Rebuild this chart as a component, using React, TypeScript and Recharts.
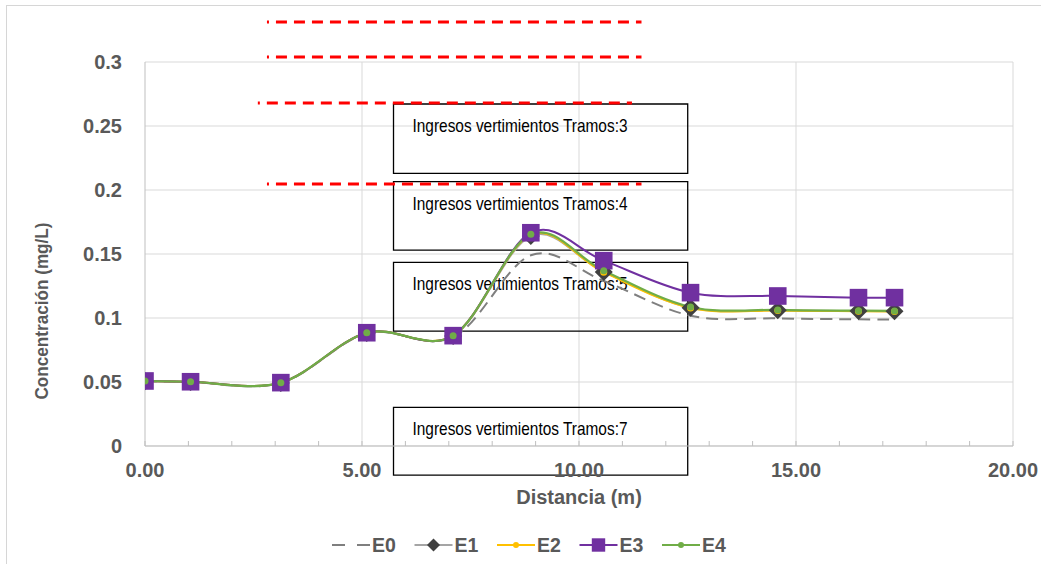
import React from 'react';
import { LineChart, Line, XAxis, YAxis, CartesianGrid, ReferenceLine, ReferenceArea } from 'recharts';

// ---- data ----
const distancia = [0, 1.05, 3.13, 5.11, 7.1, 8.89, 10.57, 12.57, 14.58, 16.44, 17.27];
const e0 = [0.0505, 0.05, 0.0493, 0.088, 0.085, 0.149, 0.129, 0.1018, 0.0997, 0.099, 0.0988];
const e1 = [0.0506, 0.05, 0.0493, 0.0883, 0.086, 0.164, 0.136, 0.108, 0.106, 0.1054, 0.1052];
const e2 = [0.0508, 0.0502, 0.0495, 0.0885, 0.0862, 0.165, 0.1358, 0.1078, 0.1058, 0.1053, 0.105];
const e3 = [0.0508, 0.0502, 0.0495, 0.0885, 0.0862, 0.1666, 0.1448, 0.1198, 0.1172, 0.1159, 0.1159];
const e4 = [0.0508, 0.0502, 0.0495, 0.0885, 0.0862, 0.1654, 0.137, 0.1086, 0.1063, 0.1057, 0.1055];

const xTicks = [0, 1, 2, 3, 4, 5, 6, 7, 8, 9, 10, 11, 12, 13, 14, 15, 16, 17, 18, 19, 20];
const xGridValues = [5, 10, 15, 20];
const yTicks = [0, 0.05, 0.1, 0.15, 0.2, 0.25, 0.3];

const boxLabels = [
  'Ingresos vertimientos Tramos:3',
  'Ingresos vertimientos Tramos:4',
  'Ingresos vertimientos Tramos:5',
  'Ingresos vertimientos Tramos:7',
];
const boxX1 = [5.726, 5.726, 5.726, 5.726];
const boxX2 = [12.505, 12.505, 12.505, 12.505];
const boxTop = [0.2672, 0.2065, 0.1435, 0.0302];
const boxBottom = [0.213, 0.1531, 0.0898, -0.0227];

const redY = [0.3313, 0.3039, 0.268, 0.2047];
const redX1 = [2.81, 2.81, 2.6, 2.81];
const redX2 = [11.44, 11.44, 11.22, 11.44];

const seriesNames = ['E0', 'E1', 'E2', 'E3', 'E4'];
const seriesValues = [e0, e1, e2, e3, e4];

const data = distancia.map((d, i) => {
  const row: any = { d };
  seriesNames.forEach((n, k) => (row[n] = seriesValues[k][i]));
  return row;
});

// dash pattern of the red lines: a short leading fragment, then regular dashes
const redDash = ['2 7'].concat(Array(24).fill('11 7')).join(' ');

// Excel-like smoothing (Catmull-Rom style bezier)
function excelSmooth(context: any) {
  let pts: number[][] = [];
  return {
    areaStart() {},
    areaEnd() {},
    lineStart() {
      pts = [];
    },
    point(x: number, y: number) {
      pts.push([+x, +y]);
    },
    lineEnd() {
      const n = pts.length;
      if (!n) return;
      context.moveTo(pts[0][0], pts[0][1]);
      for (let i = 0; i < n - 1; i++) {
        const p0 = pts[Math.max(i - 1, 0)];
        const p1 = pts[i];
        const p2 = pts[i + 1];
        const p3 = pts[Math.min(i + 2, n - 1)];
        const c1x = p1[0] + (p2[0] - p0[0]) / 6;
        const c1y = p1[1] + (p2[1] - p0[1]) / 6;
        const c2x = p2[0] - (p3[0] - p1[0]) / 6;
        const c2y = p2[1] - (p3[1] - p1[1]) / 6;
        context.bezierCurveTo(c1x, c1y, c2x, c2y, p2[0], p2[1]);
      }
    },
  };
}

const C = {
  E0: '#7f7f7f',
  E1line: '#a5a5a5',
  E1mark: '#404040',
  E2: '#FFC000',
  E3: '#7030A0',
  E4: '#70AD47',
  text: '#595959',
};

const Diamond = (p: any) => {
  const { cx, cy, index } = p;
  if (cx == null || cy == null) return <g key={`dm${index}`} />;
  const s = 9;
  return <path key={`dm${index}`} d={`M${cx},${cy - s}L${cx + s},${cy}L${cx},${cy + s}L${cx - s},${cy}Z`} fill={C.E1mark} />;
};
const Square = (p: any) => {
  const { cx, cy, index } = p;
  if (cx == null || cy == null) return <g key={`sq${index}`} />;
  const s = 8.8;
  return <rect key={`sq${index}`} x={cx - s} y={cy - s} width={2 * s} height={2 * s} fill={C.E3} />;
};
const makeCircle = (color: string, tag: string) => (p: any) => {
  const { cx, cy, index } = p;
  if (cx == null || cy == null) return <g key={`${tag}${index}`} />;
  return <circle key={`${tag}${index}`} cx={cx} cy={cy} r={3.5} fill={color} />;
};

const BoxLabel = (props: any) => {
  const { viewBox, text } = props;
  if (!viewBox) return null;
  return (
    <text
      x={viewBox.x + 19}
      y={viewBox.y + 28}
      fontSize={18.5}
      fontFamily="'Liberation Sans Narrow','Liberation Sans',Arial,sans-serif"
      fill="#000"
      textLength={215}
      lengthAdjust="spacingAndGlyphs"
    >
      {text}
    </text>
  );
};

const YTitle = (props: any) => {
  const { viewBox } = props;
  if (!viewBox) return null;
  const cx = viewBox.x + 33;
  const cy = viewBox.y + viewBox.height / 2 + 57;
  return (
    <text
      x={cx}
      y={cy}
      transform={`rotate(-90 ${cx} ${cy})`}
      textAnchor="middle"
      dominantBaseline="central"
      fontSize={19}
      fontWeight="bold"
      fill={C.text}
      textLength={177}
      lengthAdjust="spacingAndGlyphs"
    >
      Concentración (mg/L)
    </text>
  );
};

const XTitle = (props: any) => {
  const { viewBox } = props;
  if (!viewBox) return null;
  return (
    <text
      x={viewBox.x + viewBox.width / 2}
      y={viewBox.y + 58}
      textAnchor="middle"
      fontSize={20}
      fontWeight="bold"
      fill={C.text}
    >
      Distancia (m)
    </text>
  );
};

const LegendIcon = ({ name, x, y }: { name: string; x: number; y: number }) => {
  const w = 38;
  if (name === 'E0')
    return <line x1={x} x2={x + w} y1={y} y2={y} stroke={C.E0} strokeWidth={2} strokeDasharray="13 12" />;
  if (name === 'E1')
    return (
      <g>
        <line x1={x} x2={x + w} y1={y} y2={y} stroke={C.E1line} strokeWidth={2} />
        <path d={`M${x + w / 2},${y - 6.5}L${x + w / 2 + 6.5},${y}L${x + w / 2},${y + 6.5}L${x + w / 2 - 6.5},${y}Z`} fill={C.E1mark} />
      </g>
    );
  if (name === 'E2')
    return (
      <g>
        <line x1={x} x2={x + w} y1={y} y2={y} stroke={C.E2} strokeWidth={2} />
        <circle cx={x + w / 2} cy={y} r={3} fill={C.E2} />
      </g>
    );
  if (name === 'E3')
    return (
      <g>
        <line x1={x} x2={x + w} y1={y} y2={y} stroke={C.E3} strokeWidth={2} />
        <rect x={x + w / 2 - 6.7} y={y - 6.7} width={13.4} height={13.4} fill={C.E3} />
      </g>
    );
  return (
    <g>
      <line x1={x} x2={x + w} y1={y} y2={y} stroke={C.E4} strokeWidth={2} />
      <circle cx={x + w / 2} cy={y} r={3} fill={C.E4} />
    </g>
  );
};

export default function App() {
  return (
    <div
      style={{
        position: 'absolute',
        left: 0,
        top: 0,
        width: 1041,
        height: 564,
        overflow: 'hidden',
        background: '#fff',
        fontFamily: "'Liberation Sans', Arial, sans-serif",
      }}
    >
      <div
        style={{
          position: 'absolute',
          left: 6,
          top: 5,
          width: 1200,
          height: 800,
          border: '1px solid #d6d6d6',
        }}
      />
      <div style={{ position: 'absolute', left: 0, top: 0 }}>
        <LineChart width={1041} height={564} data={data} margin={{ top: 62, right: 28, bottom: 58, left: 8 }}>
          <CartesianGrid stroke="#d9d9d9" strokeWidth={1} verticalValues={xGridValues} />
          <XAxis
            dataKey="d"
            type="number"
            domain={[0, 20]}
            ticks={xTicks}
            interval={0}
            allowDataOverflow
            tickFormatter={(v: number) => (v % 5 === 0 ? v.toFixed(2) : '')}
            tickSize={-5}
            tickMargin={22}
            height={60}
            axisLine={{ stroke: '#bfbfbf', strokeWidth: 1 }}
            tickLine={{ stroke: '#bfbfbf' }}
            tick={{ fill: C.text, fontSize: 20, fontWeight: 'bold' }}
            label={<XTitle />}
          />
          <YAxis
            type="number"
            domain={[0, 0.3]}
            ticks={yTicks}
            interval={0}
            allowDataOverflow
            width={137}
            tickLine={false}
            tickSize={0}
            tickMargin={23}
            axisLine={{ stroke: '#bfbfbf', strokeWidth: 1 }}
            tick={{ fill: C.text, fontSize: 20, fontWeight: 'bold' }}
            tickFormatter={(v: number) => String(v)}
            label={<YTitle />}
          />
          <Line
            dataKey="E0"
            type={excelSmooth as any}
            stroke={C.E0}
            strokeWidth={2}
            strokeDasharray="12 7"
            dot={false}
            activeDot={false}
            isAnimationActive={false}
          />
          <Line
            dataKey="E1"
            type={excelSmooth as any}
            stroke={C.E1line}
            strokeWidth={2}
            dot={Diamond}
            activeDot={false}
            isAnimationActive={false}
          />
          <Line
            dataKey="E2"
            type={excelSmooth as any}
            stroke={C.E2}
            strokeWidth={2}
            dot={makeCircle(C.E2, 'e2')}
            activeDot={false}
            isAnimationActive={false}
          />
          <Line
            dataKey="E3"
            type={excelSmooth as any}
            stroke={C.E3}
            strokeWidth={2}
            dot={Square}
            activeDot={false}
            isAnimationActive={false}
          />
          <Line
            dataKey="E4"
            type={excelSmooth as any}
            stroke={C.E4}
            strokeWidth={2.2}
            dot={makeCircle(C.E4, 'e4')}
            activeDot={false}
            isAnimationActive={false}
          />
          {redY.map((y, i) => (
            <ReferenceLine
              key={`r${i}`}
              segment={[
                { x: redX1[i], y },
                { x: redX2[i], y },
              ]}
              stroke="#ff0000"
              strokeWidth={3}
              strokeDasharray={redDash}
              ifOverflow="visible"
            />
          ))}
          {boxLabels.map((t, i) => (
            <ReferenceArea
              key={`b${i}`}
              x1={boxX1[i]}
              x2={boxX2[i]}
              y1={boxBottom[i]}
              y2={boxTop[i]}
              fill="none"
              fillOpacity={0}
              stroke="#000"
              strokeWidth={1.3}
              ifOverflow="visible"
              label={<BoxLabel text={t} />}
            />
          ))}
        </LineChart>
      </div>
      <svg
        width={1041}
        height={564}
        style={{ position: 'absolute', left: 0, top: 0, pointerEvents: 'none' }}
      >
        {seriesNames.map((n, i) => {
          const x = 332 + i * 82.5;
          return (
            <g key={n}>
              <LegendIcon name={n} x={x} y={545} />
              <text x={x + 40} y={545} dominantBaseline="central" fontSize={19.5} fontWeight="bold" fill={C.text}>
                {n}
              </text>
            </g>
          );
        })}
      </svg>
    </div>
  );
}
